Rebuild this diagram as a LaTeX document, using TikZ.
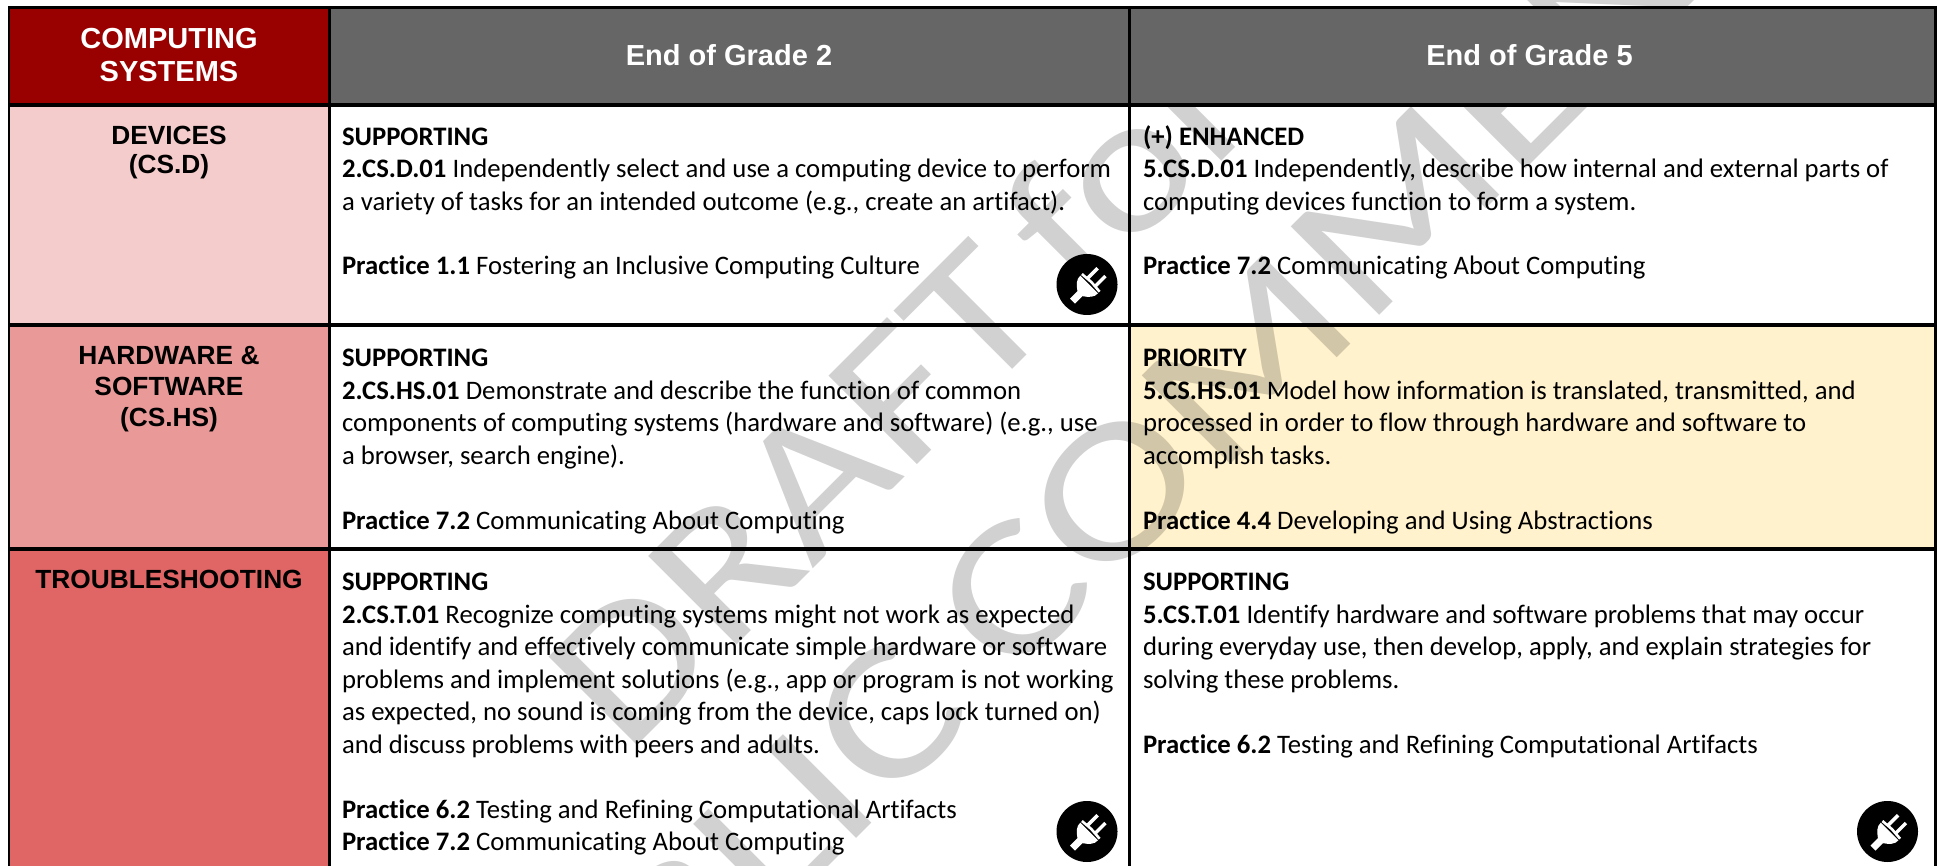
\documentclass[tikz,border=0pt]{standalone}
\usepackage{fontspec}
\setmainfont{Carlito}[Ligatures=NoCommon]
\newfontfamily\headfont{Liberation Sans}
\definecolor{hdred}{HTML}{990000}
\definecolor{hdgray}{HTML}{666666}
\definecolor{rowa}{HTML}{F4CCCC}
\definecolor{rowb}{HTML}{EA9999}
\definecolor{rowc}{HTML}{E06666}
\definecolor{prio}{HTML}{FFF2CC}
\newcounter{tln}
\newcommand{\tl}[4]{\stepcounter{tln}\node[bodyline,name=t\thetln] at (#1,#2) {\textbf{#3}#4};}
\tikzset{
  bodyline/.style={anchor=base west,inner sep=0pt,outer sep=0pt,font=\fontsize{26.7}{26.7}\selectfont,text=black},
  headline/.style={anchor=base,inner sep=0pt,outer sep=0pt,font=\headfont\bfseries\fontsize{29}{29}\selectfont},
  sideline/.style={anchor=base,inner sep=0pt,outer sep=0pt,font=\headfont\bfseries\fontsize{26.3}{26.3}\selectfont,text=black},
  wmark/.style={anchor=base west,inner sep=0pt,outer sep=0pt,rotate=45,text=black,text opacity=0.18,font=\fontsize{195}{195}\selectfont},
  gridline/.style={draw=black,line width=3.4pt},
  plugicon/.pic={
    \fill[black] (0,0) circle[radius=30.5];
    \begin{scope}[x={(.7071pt,.7071pt)},y={(-.7071pt,.7071pt)}]
      \draw[white,line width=2.6pt] (3.8,-14) -- (4.8,-1.5) -- (3.8,11);
      \draw[white,line width=3.4pt] (5,4) -- (19,4);
      \draw[white,line width=3.4pt] (5,-7) -- (19,-7);
      \fill[white] (1.5,-14) -- (1.5,11) .. controls (-4,11.5) and (-8,7) .. (-11.5,2) -- (-22,2) -- (-22,-5) -- (-11.5,-5) .. controls (-8,-10) and (-4,-14.5) .. (1.5,-14) -- cycle;
    \end{scope}
  }
}
\begin{document}
\begin{tikzpicture}[x=1pt,y=-1pt]
\useasboundingbox (0,0) rectangle (1937,866);
\fill[white] (0,0) rectangle (1937,866);
\fill[prio] (1130,325) rectangle (1935,549);
% watermark
\node[wmark,name=wm1] at (626,756) {\scalebox{1.17}[1]{DRAFT}};
\node[wmark,name=wm2] at (1080,302) {\scalebox{1.17}[1]{for}};
\node[wmark,name=wm3] at (477,1218) {\scalebox{1.25}[1]{PUBLIC}};
\node[wmark,name=wm4] at (1010.5,684.5) {\scalebox{1.26}[1]{COMMENT}};
% fills
\fill[hdred] (9,7) rectangle (329.5,105);
\fill[hdgray] (329.5,7) rectangle (1935,105);
\fill[rowa] (9,105) rectangle (329.5,325);
\fill[rowb] (9,325) rectangle (329.5,549);
\fill[rowc] (9,549) rectangle (329.5,866);
% grid
\draw[gridline] (8,7.5) -- (1937,7.5);
\draw[gridline] (8,105) -- (1937,105);
\draw[gridline] (8,325) -- (1937,325);
\draw[gridline] (8,549) -- (1937,549);
\draw[gridline,line width=2.6pt] (9,6) -- (9,866);
\draw[gridline,line width=2.8pt] (329.5,6) -- (329.5,866);
\draw[gridline,line width=2.6pt] (1129.5,6) -- (1129.5,866);
\draw[gridline,line width=2.2pt] (1935.5,6) -- (1935.5,866);
% headers
\node[headline,text=white,name=h1] at (169,48.5) {COMPUTING};
\node[headline,text=white,name=h2] at (169,82) {SYSTEMS};
\node[headline,text=white,name=h3] at (729,66) {End of Grade 2};
\node[headline,text=white,name=h4] at (1529.5,66) {End of Grade 5};
% side labels
\node[sideline,name=s1] at (169,145) {DEVICES};
\node[sideline,name=s2] at (169,174) {(CS.D)};
\node[sideline,name=s3] at (169,364.5) {HARDWARE \&};
\node[sideline,name=s4] at (169,395.5) {SOFTWARE};
\node[sideline,name=s5] at (169,426) {(CS.HS)};
\node[sideline,name=s6] at (169,588) {TROUBLESHOOTING};
% row 1
\tl{342}{146}{SUPPORTING}{}
\tl{342}{178}{2.CS.D.01}{ Independently select and use a computing device to perform}
\tl{342}{210.5}{}{a variety of tasks for an intended outcome (e.g., create an artifact).}
\tl{342}{275}{Practice 1.1}{ Fostering an Inclusive Computing Culture}
\tl{1143}{146}{(+) ENHANCED}{}
\tl{1143}{178}{5.CS.D.01}{ Independently, describe how internal and external parts of}
\tl{1143}{210.5}{}{computing devices function to form a system.}
\tl{1143}{275}{Practice 7.2}{ Communicating About Computing}
% row 2
\tl{342}{366.5}{SUPPORTING}{}
\tl{342}{399}{2.CS.HS.01}{ Demonstrate and describe the function of common}
\tl{342}{431.5}{}{components of computing systems (hardware and software) (e.g., use}
\tl{342}{464}{}{a browser, search engine).}
\tl{342}{529.5}{Practice 7.2}{ Communicating About Computing}
\tl{1143}{366.5}{PRIORITY}{}
\tl{1143}{399}{5.CS.HS.01}{ Model how information is translated, transmitted, and}
\tl{1143}{431.5}{}{processed in order to flow through hardware and software to}
\tl{1143}{464}{}{accomplish tasks.}
\tl{1143}{529.5}{Practice 4.4}{ Developing and Using Abstractions}
% row 3
\tl{342}{590}{SUPPORTING}{}
\tl{342}{623}{2.CS.T.01}{ Recognize computing systems might not work as expected}
\tl{342}{655.5}{}{and identify and effectively communicate simple hardware or software}
\tl{342}{688}{}{problems and implement solutions (e.g., app or program is not working}
\tl{342}{720.5}{}{as expected, no sound is coming from the device, caps lock turned on)}
\tl{342}{753}{}{and discuss problems with peers and adults.}
\tl{342}{818}{Practice 6.2}{ Testing and Refining Computational Artifacts}
\tl{342}{850}{Practice 7.2}{ Communicating About Computing}
\tl{1143}{590}{SUPPORTING}{}
\tl{1143}{623}{5.CS.T.01}{ Identify hardware and software problems that may occur}
\tl{1143}{655.5}{}{during everyday use, then develop, apply, and explain strategies for}
\tl{1143}{688}{}{solving these problems.}
\tl{1143}{753}{Practice 6.2}{ Testing and Refining Computational Artifacts}
% plug icons
\pic at (1087,284.5) {plugicon};
\pic at (1087,831.5) {plugicon};
\pic at (1887.5,831.5) {plugicon};
\end{tikzpicture}
\end{document}
